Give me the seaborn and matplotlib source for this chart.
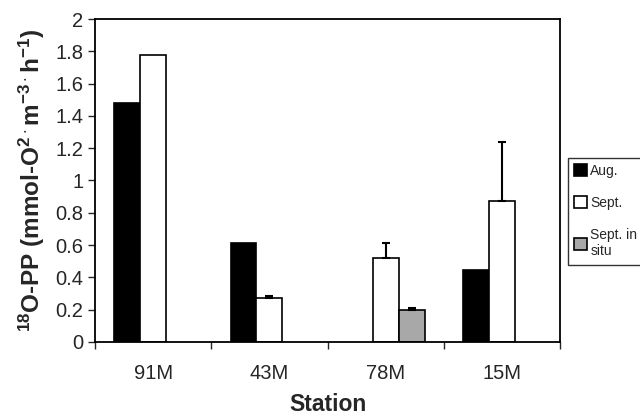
import matplotlib
matplotlib.use("Agg")
import matplotlib.pyplot as plt
import seaborn as sns
import pandas as pd
import numpy as np

stations = ["91M", "43M", "78M", "15M"]
series = ["Aug.", "Sept.", "Sept. in\nsitu"]
aug = [1.48, 0.615, np.nan, 0.445]
sept = [1.78, 0.27, 0.52, 0.87]
sept_insitu = [np.nan, np.nan, 0.195, np.nan]
sept_err = [0.0, 0.015, 0.095, 0.37]
insitu_err = [np.nan, np.nan, 0.015, np.nan]
ytick_labels = ["0", "0.2", "0.4", "0.6", "0.8", "1", "1.2", "1.4", "1.6", "1.8", "2"]
colors = ["#000000", "#ffffff", "#a8a8a8"]

sns.set_style("ticks")
plt.rcParams["font.family"] = ["Liberation Sans", "DejaVu Sans"]
plt.rcParams["mathtext.fontset"] = "custom"
plt.rcParams["mathtext.rm"] = "Liberation Sans:bold"
plt.rcParams["mathtext.bf"] = "Liberation Sans:bold"
plt.rcParams["mathtext.it"] = "Liberation Sans:bold"

rows = []
for i, s in enumerate(stations):
    for name, vals in zip(series, [aug, sept, sept_insitu]):
        if not np.isnan(vals[i]):
            rows.append({"Station": s, "Series": name, "Value": vals[i]})
df = pd.DataFrame(rows)

fig = plt.figure(figsize=(6.4, 4.17), dpi=100)
ax = fig.add_axes([0.1484, 0.1799, 0.7271, 0.7745])

sns.barplot(data=df, x="Station", y="Value", hue="Series", order=stations,
            hue_order=series, palette=colors, width=0.67, dodge=True,
            edgecolor="black", linewidth=1.2, errorbar=None, ax=ax, legend=True)

# error bars (upper only)
errs = {}
for i, s in enumerate(stations):
    errs[round(sept[i], 4)] = sept_err[i]
    if not np.isnan(sept_insitu[i]):
        errs[round(sept_insitu[i], 4)] = insitu_err[i]
for p in ax.patches:
    h = p.get_height()
    if h is None or np.isnan(h):
        continue
    e = errs.get(round(h, 4), 0)
    if e and e > 0.001:
        xc = p.get_x() + p.get_width() / 2
        ax.errorbar([xc], [h], yerr=[[0], [e]], fmt="none", ecolor="black",
                    elinewidth=1.5, capsize=3, capthick=1.5)

ax.set_ylim(0, 2)
ax.set_xlim(-0.5, 3.5)
ax.set_yticks(np.arange(0, 2.01, 0.2))
ax.set_yticklabels(ytick_labels)
ax.set_xticks(np.arange(-0.5, 3.6, 1.0))
ax.set_xticklabels([])
ax.set_xticks(range(len(stations)), minor=True)
ax.set_xticklabels(stations, minor=True)
ax.tick_params(axis="x", which="minor", length=0, labelsize=14.5, pad=16)
ax.tick_params(axis="x", which="major", length=5, width=1, direction="out")
ax.tick_params(axis="y", labelsize=14.5, length=5, width=1, direction="out")

for sp in ax.spines.values():
    sp.set_visible(True)
    sp.set_linewidth(1.3)
    sp.set_color("black")

ax.set_xlabel("Station", fontsize=16.5, fontweight="bold", labelpad=7)
ax.set_ylabel(r"$^{18}$O-PP (mmol-O$^{2\cdot}$m$^{-3\cdot}$h$^{-1}$)",
              fontsize=17.5, fontweight="bold", labelpad=6)

handles, labels = ax.get_legend_handles_labels()
ax.legend(handles, labels, loc="upper left", bbox_to_anchor=(1.0165, 0.5706),
          frameon=True, fancybox=False, edgecolor="black", fontsize=10,
          handlelength=0.9, handleheight=0.9, handletextpad=0.25,
          labelspacing=1.3, borderpad=0.45, borderaxespad=0)
ax.get_legend().get_frame().set_linewidth(1.0)

fig.savefig("out.png", dpi=100)
